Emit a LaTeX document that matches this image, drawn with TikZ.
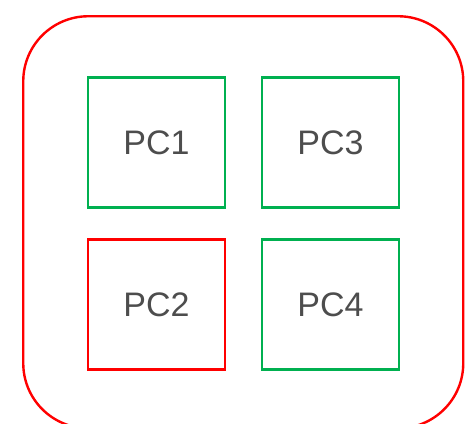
\documentclass[tikz,border=0pt]{standalone}
\usepackage{fontspec}
\setmainfont{Liberation Sans}
\definecolor{pcgreen}{HTML}{00B050}
\definecolor{pcred}{HTML}{FF0000}
\definecolor{pctext}{HTML}{4D4D4D}
\begin{document}
\begin{tikzpicture}[x=1pt,y=-1pt,
  pcbox/.style={draw=#1, line width=2.2pt, minimum width=137pt, minimum height=130pt, inner sep=0pt,
    font=\fontsize{34}{34}\selectfont, text=pctext},
]
\useasboundingbox (0,0) rectangle (470,423);
\begin{scope}
\clip (0,0) rectangle (470,423);
\node[draw=pcred, line width=2.4pt, rounded corners=65pt, minimum width=440pt, minimum height=412pt, inner sep=0pt] (outer) at (243.25,222.25) {};
\end{scope}
\node[pcbox=pcgreen] (pc1) at (156.5,142.5) {PC1};
\node[pcbox=pcgreen] (pc3) at (330.5,142.5) {PC3};
\node[pcbox=pcred] (pc2) at (156.5,304.5) {PC2};
\node[pcbox=pcgreen] (pc4) at (330.5,304.5) {PC4};
\end{tikzpicture}
\end{document}
